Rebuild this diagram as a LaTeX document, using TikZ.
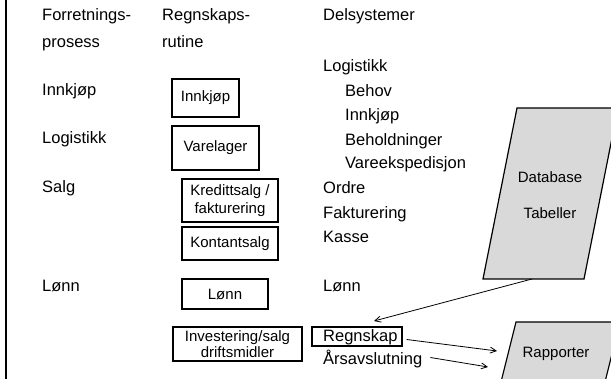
\documentclass[tikz,border=0pt]{standalone}
\usepackage{fontspec}
\setmainfont{Liberation Sans}
\usetikzlibrary{arrows.meta}
\tikzset{
  lbl/.style={anchor=base west, inner sep=0pt, font=\fontsize{16.5}{19}\selectfont},
  boxed/.style={draw=black, line width=1.3pt, inner sep=0pt, align=center, font=\fontsize{15}{18}\selectfont},
  para/.style={draw=black, line width=1.2pt, fill=black!15},
  ptxt/.style={inner sep=0pt, font=\fontsize{15}{18}\selectfont},
  conn/.style={draw=black, line width=0.8pt, -{Straight Barb[length=6pt,width=6pt]}}
}
\begin{document}
\begin{tikzpicture}[x=1pt,y=-1pt]
\useasboundingbox (0,0) rectangle (611,379);
\clip (0,0) rectangle (611,379);
% left border
\draw[line width=2.3pt] (6,-5) -- (6,385);
% column 1
\node[lbl] (h1a) at (42,21) {Forretnings-};
\node[lbl] (h1b) at (42,48) {prosess};
\node[lbl] (c1a) at (42,96) {Innkjøp};
\node[lbl] (c1b) at (42,144) {Logistikk};
\node[lbl] (c1c) at (42,193) {Salg};
\node[lbl] (c1d) at (42,292) {Lønn};
% column 2
\node[lbl] (h2a) at (162,21) {Regnskaps-};
\node[lbl] (h2b) at (162,48) {rutine};
\node[boxed, minimum width=67pt, minimum height=38pt] (b1) at (205.5,98) {Innkjøp};
\node[boxed, minimum width=87pt, minimum height=44pt] (b2) at (215.5,148) {Varelager};
\node[boxed, minimum width=96pt, minimum height=43pt] (b3) at (230,200.5) {Kredittsalg /\\fakturering};
\node[boxed, minimum width=96pt, minimum height=33pt] (b4) at (230,243.5) {Kontantsalg};
\node[boxed, minimum width=86pt, minimum height=30pt] (b5) at (225,294) {Lønn};
\node[boxed, minimum width=129pt, minimum height=34pt, font=\fontsize{15}{15.5}\selectfont] (b6) at (237.5,344) {Investering/salg\\driftsmidler};
% column 3
\node[lbl] (h3) at (323,21) {Delsystemer};
\node[lbl] (d1) at (323,72) {Logistikk};
\node[lbl] (d2) at (345,97) {Behov};
\node[lbl] (d3) at (345,121) {Innkjøp};
\node[lbl] (d4) at (345,146) {Beholdninger};
\node[lbl] (d5) at (345,169) {Vareekspedisjon};
\node[lbl] (d6) at (323,194) {Ordre};
\node[lbl] (d7) at (323,219) {Fakturering};
\node[lbl] (d8) at (323,243) {Kasse};
\node[lbl] (d9) at (323,292) {Lønn};
\node[draw=black, line width=1.3pt, inner sep=0pt, minimum width=90pt, minimum height=19pt] (regbox) at (357,336.5) {};
\node[lbl] (regtxt) at (323,342) {Regnskap};
\node[lbl] (aars) at (323,365) {Årsavslutning};
% database
\draw[para] (517,108) -- (618,108) -- (584,279) -- (483,279) -- cycle;
\node[ptxt] (db1) at (550,177) {Database};
\node[ptxt] (db2) at (550,213) {Tabeller};
\coordinate (dbbot) at (532,279);
% rapporter
\draw[para] (516,322) -- (620,322) -- (603,390) -- (499,390) -- cycle;
\node[ptxt] (rap) at (556,354) {Rapporter};
\coordinate (rapin1) at (497,351);
\coordinate (rapin2) at (488,367);
\coordinate (regin) at (374,321);
% connectors
\draw[conn] (dbbot) -- (regin);
\draw[conn] (regbox.east) ++(4,3) coordinate (rego) (rego) -- (rapin1);
\draw[conn] (aars.east) ++(8,-2) coordinate (aarso) (aarso) -- (rapin2);
\end{tikzpicture}
\end{document}
